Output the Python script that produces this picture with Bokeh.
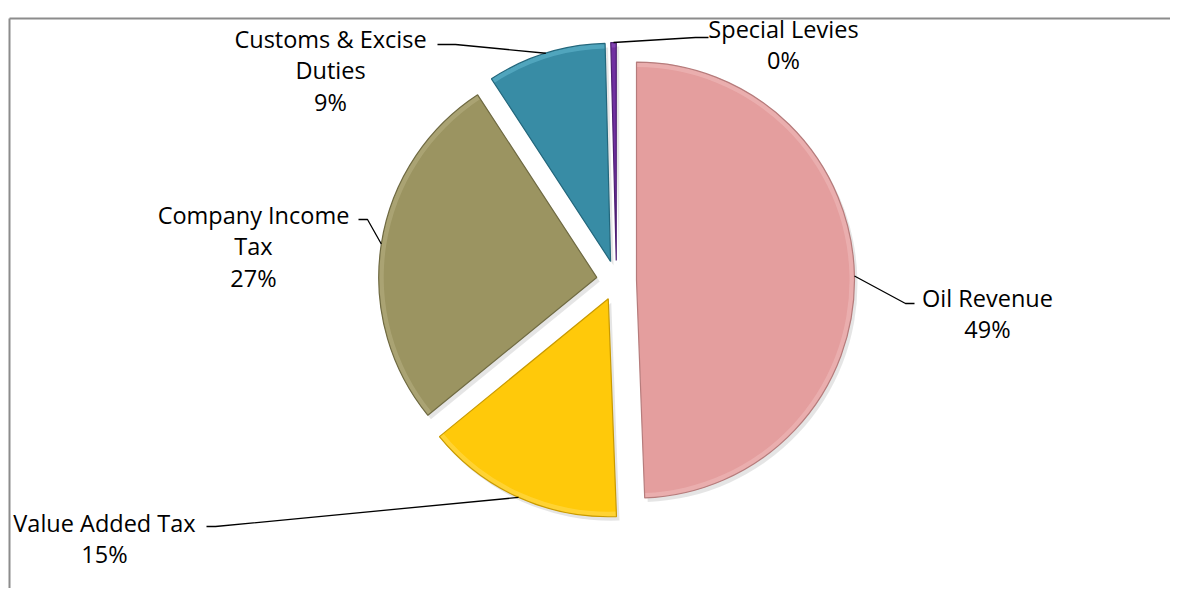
import math
import numpy as np
from bokeh.plotting import figure
from bokeh.models import Range1d, ColumnDataSource
from bokeh.core.properties import value
from bokeh.embed import file_html
from bokeh.resources import INLINE

# ---- data ----
categories = ["Oil Revenue", "Value Added Tax", "Company Income Tax",
              "Customs & Excise Duties", "Special Levies"]
label_lines = [["Oil Revenue"], ["Value Added Tax"], ["Company Income", "Tax"],
               ["Customs & Excise", "Duties"], ["Special Levies"]]
shares = [49.4, 14.7, 26.7, 8.8, 0.4]
colors = ["#E49E9E", "#FFC90A", "#9B9461", "#388CA5", "#7030A0"]
edge_colors = ["#B67C7C", "#C99A00", "#6F6A42", "#23677C", "#4E1F73"]
rim_colors = ["#F2C2C2", "#FFE066", "#BDB68A", "#6FC3DC", "#9A5CC8"]

# ---- layout (page pixels, y measured downward) ----
W, H = 1170, 588
CX, CY = 616, 280          # pie centre
R = 218                    # radius
EXPLODE = 20
FONT = "Open Sans"
FS = 23.5
LINE_H = 31.5
label_pos = [(987, 297), (104, 522), (253, 214), (330, 38), (783, 28)]
elbows = [[(905, 303), (914, 303)],
          [(215, 526), (206, 526)],
          [(367, 219), (358, 219)],
          [(455, 44), (437, 44)],
          [(695, 37), (708, 37)]]


def Y(y):
    return 604 - y


p = figure(width=W, height=H, output_backend="svg", toolbar_location=None,
           x_range=Range1d(0, W), y_range=Range1d(604 - H, 604),
           min_border=0, outline_line_color=None, background_fill_color="white")
p.axis.visible = False
p.grid.visible = False

# frame
p.line([9, 9], [Y(18), 0], line_color="#8C8C8C", line_width=2)
p.line([9, 1186], [Y(18), Y(18)], line_color="#8C8C8C", line_width=2)

total = sum(shares)
cum = np.cumsum([0] + shares)
t1 = cum[:-1] / total * 360.0
t2 = cum[1:] / total * 360.0
mid = (t1 + t2) / 2.0

xs, ys, sa, ea = [], [], [], []
for a, b, m in zip(t1, t2, mid):
    rad = math.radians(m)
    xs.append(CX + EXPLODE * math.sin(rad))
    ys.append(Y(CY) + EXPLODE * math.cos(rad))
    sa.append(90 - b)
    ea.append(90 - a)

# soft shadow
p.wedge(x=[x + 3 for x in xs], y=[y - 4 for y in ys], radius=R,
        start_angle=sa, end_angle=ea, start_angle_units="deg", end_angle_units="deg",
        fill_color="#000000", fill_alpha=0.10, line_color=None)

src = ColumnDataSource(dict(x=xs, y=ys, sa=sa, ea=ea, fill=colors, edge=edge_colors,
                            rim=rim_colors, name=categories, share=shares))
p.wedge(x="x", y="y", radius=R, start_angle="sa", end_angle="ea",
        start_angle_units="deg", end_angle_units="deg",
        fill_color="fill", line_color=None, source=src)
# bevel rim
p.annular_wedge(x="x", y="y", inner_radius=R - 5, outer_radius=R, start_angle="sa",
                end_angle="ea", start_angle_units="deg", end_angle_units="deg",
                fill_color="rim", fill_alpha=0.45, line_color=None, source=src)
p.wedge(x="x", y="y", radius=R, start_angle="sa", end_angle="ea",
        start_angle_units="deg", end_angle_units="deg",
        fill_color=None, line_color="edge", line_width=1.2, source=src)

# leader lines and labels
for i, (lines, (lx, ly)) in enumerate(zip(label_lines, label_pos)):
    rad = math.radians(mid[i])
    ax = xs[i] + R * math.sin(rad)
    ay = ys[i] + R * math.cos(rad)
    px = [ax] + [e[0] for e in elbows[i]]
    py = [ay] + [Y(e[1]) for e in elbows[i]]
    p.line(px, py, line_color="black", line_width=1.3)
    txt = lines + [f"{round(shares[i])}%"]
    p.text(x=[lx] * len(txt), y=[Y(ly + k * LINE_H) for k in range(len(txt))], text=txt,
           text_align="center", text_baseline="middle",
           text_font=value(FONT), text_font_size=f"{FS}px", text_color="black")

open("out.html", "w").write(file_html(p, INLINE))
